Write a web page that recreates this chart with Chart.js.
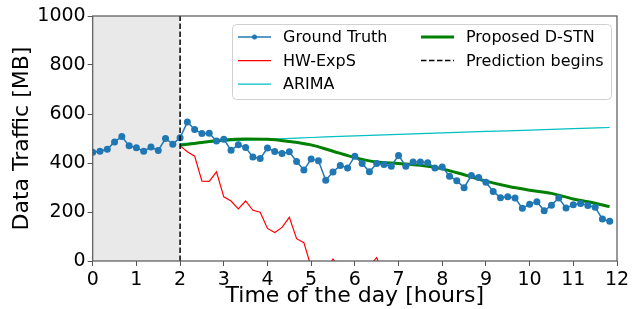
<!DOCTYPE html>
<html>
<head>
<meta charset="utf-8">
<script src="https://cdn.jsdelivr.net/npm/chart.js@4"></script>
<style>
    html, body { margin: 0; padding: 0; background: #fff; }
    #wrap { width: 636px; height: 309px; }
</style>
</head>
<body>
<div id="wrap"><canvas id="my-chart" width="636" height="309"></canvas></div>
<script>
// * Data traffic forecast: ground truth vs. HW-ExpS, ARIMA and D-STN

// samples every 10 minutes, starting at 0h
const stepHours = 1 / 6
const groundTruth = [
    444, 448, 456, 486, 508, 470, 462, 448, 465, 451, 500, 477,
    503, 567, 537, 520, 521, 490, 497, 452, 474, 463, 424, 418,
    461, 447, 439, 446, 406, 371, 416, 409, 330, 363, 390, 380,
    428, 398, 364, 398, 394, 387, 431, 387, 404, 404, 401, 380,
    384, 346, 328, 299, 349, 341, 321, 284, 258, 262, 257, 215,
    232, 242, 205, 228, 257, 216, 230, 235, 227, 219, 171, 162
]

// HW-ExpS starts at the prediction point (sample 12), goes below zero later
const hwStartIndex = 12
const hwExpS = [
    470, 446, 428, 326, 325, 364, 262, 245, 213, 245, 207, 199,
    133, 116, 137, 178, 91, 75, -25, -60, -40, 8, -30, -70,
    -90, -60, -20, 14, -60, -110
]

const arimaTimes = [2, 3, 4, 5, 6, 7, 8, 9, 10, 11, 11.83]
const arimaValues = [479, 489, 497, 504, 511, 517, 523, 529, 534, 540, 545]

const dstnTimes = [2, 2.5, 3, 3.5, 4, 4.5, 5, 5.5, 6, 6.5, 7, 7.5, 8, 8.5, 9, 9.5, 10, 10.5, 11, 11.5, 11.83]
const dstnValues = [472, 484, 494, 498, 497, 488, 474, 448, 422, 404, 398, 391, 376, 352, 326, 305, 289, 276, 253, 236, 222]

const predictionStart = 2
const xTicks = [0, 1, 2, 3, 4, 5, 6, 7, 8, 9, 10, 11, 12]
const yTicks = [0, 200, 400, 600, 800, 1000]

const ctx = document.getElementById('my-chart')
Chart.defaults.font.family = 'DejaVu Sans'
Chart.defaults.color = '#000'

const gtPoints = groundTruth.map((v, i) => ({ x: i * stepHours, y: v }))
const hwPoints = hwExpS.map((v, i) => ({ x: (hwStartIndex + i) * stepHours, y: v }))
const arimaPoints = arimaTimes.map((t, i) => ({ x: t, y: arimaValues[i] }))
const dstnPoints = dstnTimes.map((t, i) => ({ x: t, y: dstnValues[i] }))

// gray band for the history part + frame around the plot
const backgroundPlugin = {
    id: 'background',
    beforeDatasetsDraw(chart) {
        const { ctx, chartArea, scales } = chart
        const x0 = scales.x.getPixelForValue(0)
        const x1 = scales.x.getPixelForValue(predictionStart)
        ctx.save()
        ctx.fillStyle = 'rgba(211, 211, 211, 0.5)'
        ctx.fillRect(x0, chartArea.top, x1 - x0, chartArea.bottom - chartArea.top)
        ctx.restore()
    },
    afterDraw(chart) {
        const { ctx, chartArea } = chart
        ctx.save()
        ctx.strokeStyle = '#555'
        ctx.lineWidth = 1.2
        ctx.strokeRect(chartArea.left, chartArea.top, chartArea.right - chartArea.left, chartArea.bottom - chartArea.top)
        ctx.restore()
    }
}

// legend in two columns like matplotlib's ncol=2
const legendItems = [
    { text: 'Ground Truth', color: '#1f77b4', width: 1.5, marker: true, col: 0, row: 0 },
    { text: 'HW-ExpS', color: '#ff0000', width: 1.2, col: 0, row: 1 },
    { text: 'ARIMA', color: '#00bfbf', width: 1.2, col: 0, row: 2 },
    { text: 'Proposed D-STN', color: '#008000', width: 3, col: 1, row: 0 },
    { text: 'Prediction begins', color: '#000', width: 1.5, dash: [5.5, 2.5], col: 1, row: 1 }
]

const legendPlugin = {
    id: 'twoColLegend',
    afterDraw(chart) {
        const { ctx, chartArea } = chart
        const boxW = 379
        const boxH = 75
        const left = chartArea.right - 6 - boxW
        const top = chartArea.top + 8
        ctx.save()
        ctx.fillStyle = 'rgba(255, 255, 255, 0.8)'
        ctx.strokeStyle = '#d0d0d0'
        ctx.lineWidth = 1
        ctx.beginPath()
        ctx.roundRect(left + 0.5, top + 0.5, boxW, boxH, 4)
        ctx.fill()
        ctx.stroke()

        ctx.font = '16px "DejaVu Sans"'
        ctx.textBaseline = 'middle'
        ctx.fillStyle = '#000'
        const colX = [6, 189]
        legendItems.forEach((item) => {
            const hx = left + colX[item.col]
            const y = top + 13 + item.row * 23.6
            ctx.strokeStyle = item.color
            ctx.lineWidth = item.width
            ctx.setLineDash(item.dash || [])
            ctx.beginPath()
            ctx.moveTo(hx, y)
            ctx.lineTo(hx + 33, y)
            ctx.stroke()
            ctx.setLineDash([])
            if (item.marker) {
                ctx.fillStyle = item.color
                ctx.beginPath()
                ctx.arc(hx + 16.5, y, 2.5, 0, Math.PI * 2)
                ctx.fill()
            }
            ctx.fillStyle = '#000'
            ctx.fillText(item.text, hx + 45, y + 1)
        })
        ctx.restore()
    }
}

new Chart(ctx, {
    type: 'line',
    data: {
        datasets: [
            {
                label: 'Ground Truth',
                data: gtPoints,
                borderColor: '#1f77b4',
                backgroundColor: '#1f77b4',
                borderWidth: 1.5,
                pointRadius: 3.5,
                pointBorderWidth: 0,
                order: 1
            },
            {
                label: 'HW-ExpS',
                data: hwPoints,
                borderColor: '#ff0000',
                borderWidth: 1.2,
                pointRadius: 0,
                order: 4
            },
            {
                label: 'ARIMA',
                data: arimaPoints,
                borderColor: '#00bfbf',
                borderWidth: 1.2,
                pointRadius: 0,
                cubicInterpolationMode: 'monotone',
                order: 3
            },
            {
                label: 'Proposed D-STN',
                data: dstnPoints,
                borderColor: '#008000',
                borderWidth: 3,
                pointRadius: 0,
                cubicInterpolationMode: 'monotone',
                order: 2
            },
            {
                label: 'Prediction begins',
                data: [{ x: predictionStart, y: 0 }, { x: predictionStart, y: 1000 }],
                borderColor: '#000',
                borderWidth: 1.5,
                borderDash: [5.5, 2.5],
                pointRadius: 0,
                order: 0
            }
        ]
    },
    options: {
        responsive: false,
        animation: false,
        layout: { padding: { top: 16, right: 19, left: 0, bottom: 0 } },
        plugins: {
            legend: { display: false },
            tooltip: { enabled: false }
        },
        scales: {
            x: {
                type: 'linear',
                min: 0,
                max: 12,
                afterBuildTicks: (scale) => { scale.ticks = xTicks.map((v) => ({ value: v })) },
                afterFit: (scale) => { scale.height = 48 },
                grid: { drawOnChartArea: false, tickLength: 5, color: '#555' },
                border: { display: false },
                ticks: { font: { size: 19 }, padding: 3, maxRotation: 0, callback: (v) => String(v) },
                title: {
                    display: true,
                    text: 'Time of the day [hours]',
                    font: { size: 22 },
                    padding: { top: 0, bottom: 0 }
                }
            },
            y: {
                min: 0,
                max: 1000,
                afterBuildTicks: (scale) => { scale.ticks = yTicks.map((v) => ({ value: v })) },
                afterFit: (scale) => { scale.width = 92.7 },
                grid: { drawOnChartArea: false, tickLength: 5, color: '#555' },
                border: { display: false },
                ticks: { font: { size: 19 }, padding: 2, callback: (v) => String(v) },
                title: {
                    display: true,
                    text: 'Data Traffic [MB]',
                    font: { size: 22 },
                    padding: { top: 9, bottom: 0 }
                }
            }
        }
    },
    plugins: [backgroundPlugin, legendPlugin]
})
</script>
</body>
</html>
